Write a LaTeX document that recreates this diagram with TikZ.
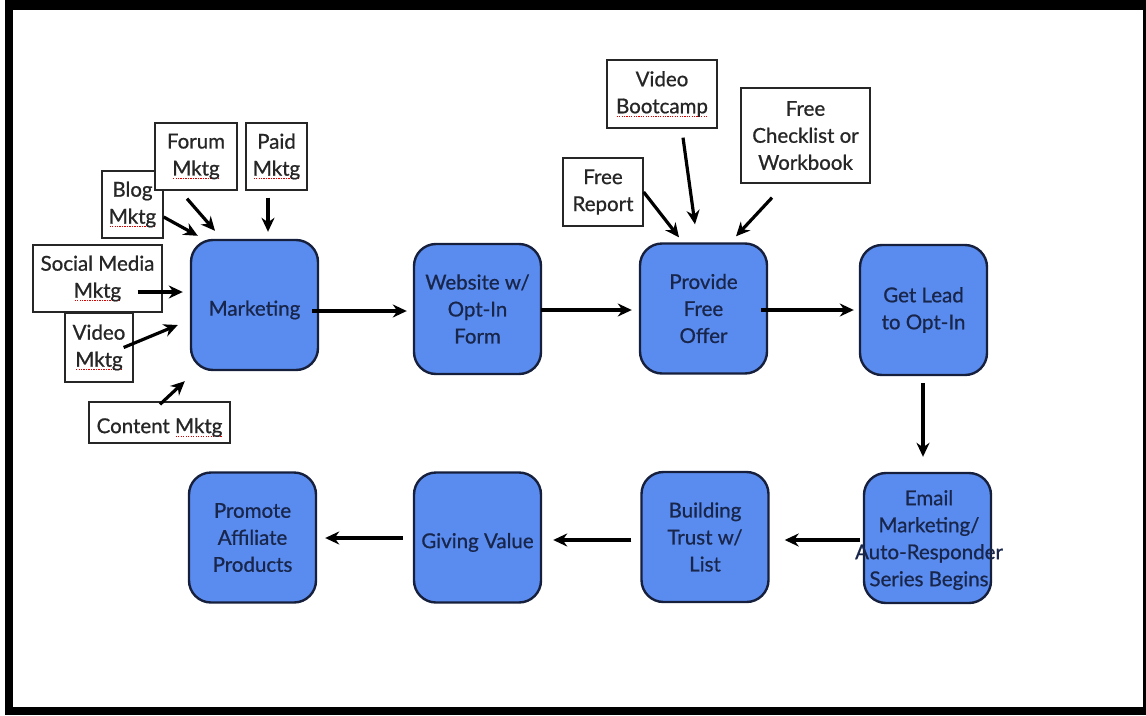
\documentclass[tikz,border=0pt]{standalone}
\usepackage{fontspec}
\setmainfont{Lato}[FakeBold=0.8]
\usetikzlibrary{arrows.meta}
\definecolor{boxblue}{RGB}{90,140,240}
\definecolor{boxedge}{RGB}{22,32,60}
\definecolor{navytext}{RGB}{25,38,75}
\newsavebox\spellbox
\newcommand\spellmark[1]{\sbox\spellbox{#1}\rlap{\raisebox{-3.5pt}{\textcolor{red!85!black}{\hbox to \wd\spellbox{\xleaders\hbox to 2.4pt{\hss\vrule width 1.2pt height 0.8pt\hss}\hfill}}}}\usebox\spellbox}
\begin{document}
\begin{tikzpicture}[x=1pt,y=-1pt,
  bbox/.style={draw=boxedge, line width=2.4pt, fill=boxblue, rounded corners=22pt,
    minimum width=127pt, minimum height=130pt, text=navytext, align=center,
    font=\fontsize{20.5}{27}\selectfont, inner sep=0pt,
    execute at begin node={\rule{0pt}{25pt}}},
  btext/.style={text=navytext, align=center, font=\fontsize{20.5}{27}\selectfont, inner sep=0pt},
  wbox/.style={draw=black!85, line width=1.3pt, fill=white, align=center,
    font=\fontsize{20.5}{27}\selectfont, text=black!85, inner sep=0pt,
    execute at begin node={\rule{0pt}{25pt}}},
  arr/.style={line width=3.2pt, -{Stealth[length=14pt,width=13pt]}}]
\useasboundingbox (0,0) rectangle (1146,715);
\fill[black] (5,0) rectangle (1146,715);
\fill[white] (13,10) rectangle (1143,707);

% blue process boxes
\node[bbox] (mkt) at (254.5,305) {Marketing};
\node[bbox] (web) at (477.5,309) {Website w/\\Opt-In\\Form};
\node[bbox] (offer) at (703.5,308.5) {Provide\\Free\\Offer};
\node[bbox] (lead) at (923.5,310) {Get Lead\\to Opt-In};
\node[bbox] (email) at (927.5,538) {};
\node[btext] (emailt) at (929,540) {Email\\Marketing/\\Auto-Responder\\Series Begins};
\node[bbox] (trust) at (705,537) {Building\\Trust w/\\List};
\node[bbox] (give) at (477.5,537.5) {Giving Value};
\node[bbox] (promo) at (252.5,537.5) {Promote\\Affiliate\\Products};

% white source boxes
\node[wbox, minimum width=61pt, minimum height=67pt] (blog) at (132.5,204.5) {Blog\\\spellmark{Mktg}};
\node[wbox, minimum width=82pt, minimum height=67pt] (forum) at (196,156.5) {Forum\\\spellmark{Mktg}};
\node[wbox, minimum width=61pt, minimum height=67pt] (paid) at (276.5,156.5) {Paid\\\spellmark{Mktg}};
\node[wbox, minimum width=68pt, minimum height=69pt] (video) at (99,347.5) {Video\\\spellmark{Mktg}};
\node[wbox, minimum width=129pt, minimum height=67pt] (social) at (97.5,278.5) {Social Media\\\spellmark{Mktg}};
\node[wbox, minimum width=141pt, minimum height=41pt] (content) at (159.5,422.5) {Content \spellmark{Mktg}};
\node[wbox, minimum width=110pt, minimum height=68pt] (vboot) at (662,94) {Video\\\spellmark{Bootcamp}};
\node[wbox, minimum width=80pt, minimum height=68pt] (freport) at (603,192) {Free\\Report};
\node[wbox, minimum width=129pt, minimum height=95pt] (check) at (805.5,135.5) {Free\\Checklist or\\Workbook};

% arrows into Marketing
\draw[arr] ([xshift=-8.5pt,yshift=-7pt]paid.south) -- ([xshift=13.5pt,yshift=7pt]mkt.north);
\draw[arr] ([xshift=-9pt,yshift=-8pt]forum.south) -- ([xshift=-39.5pt,yshift=8pt]mkt.north);
\draw[arr] ([yshift=-12.5pt]blog.east) -- ([xshift=8pt,yshift=3pt]mkt.north west);
\draw[arr] ([xshift=-25pt,yshift=-13.5pt]social.east) -- ([xshift=-7pt,yshift=13pt]mkt.west);
\draw[arr] ([xshift=-10pt]video.east) -- ([xshift=-12pt,yshift=-20pt]mkt.west);
\draw[arr] ([xshift=0.5pt,yshift=-3pt]content.north) -- ([xshift=-5pt,yshift=-10pt]mkt.south west);

% arrows into Offer
\draw[arr] (freport.east) -- ([xshift=-24.5pt,yshift=5pt]offer.north);
\draw[arr] ([xshift=21pt,yshift=-9pt]vboot.south) -- ([xshift=-8.5pt,yshift=18pt]offer.north);
\draw[arr] ([xshift=-33.5pt,yshift=-14pt]check.south) -- ([xshift=32.5pt,yshift=6pt]offer.north);

% main flow
\draw[arr] ([xshift=-7pt,yshift=-6pt]mkt.east) -- ([xshift=-6pt,yshift=-2pt]web.west);
\draw[arr] ([xshift=-1pt,yshift=-1pt]web.east) -- ([xshift=-7pt,yshift=-1.5pt]offer.west);
\draw[arr] ([xshift=-7pt,yshift=-1.5pt]offer.east) -- ([xshift=-5pt]lead.west);
\draw[arr] ([xshift=-0.5pt,yshift=-7pt]lead.south) -- ([xshift=-4.5pt,yshift=15pt]email.north);
\draw[arr] ([xshift=-3pt,yshift=-2pt]email.west) -- ([xshift=15pt,yshift=-3pt]trust.east);
\draw[arr] ([xshift=-9pt,yshift=-3pt]trust.west) -- ([xshift=11pt,yshift=-2.5pt]give.east);
\draw[arr] ([xshift=-10pt,yshift=-0.5pt]give.west) -- ([xshift=8pt,yshift=-0.5pt]promo.east);
\end{tikzpicture}
\end{document}
